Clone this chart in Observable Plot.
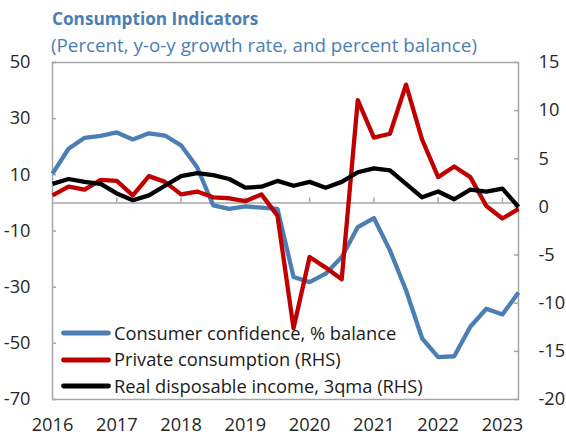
<!DOCTYPE html>
<html>
<head>
<meta charset="utf-8">
<script src="https://cdn.jsdelivr.net/npm/d3@7"></script>
<script src="https://cdn.jsdelivr.net/npm/@observablehq/plot@0.6"></script>
<style>
  body { margin: 0; background: #fff; }
  #wrap { position: relative; width: 566px; height: 436px; font-family: "Open Sans", sans-serif; overflow: hidden; }
  #title { position: absolute; left: 52px; top: 10px; font-size: 17.2px; font-weight: 700; line-height: 1; color: #4a7eb5; white-space: nowrap; }
  #subtitle { position: absolute; left: 51px; top: 35.5px; font-size: 18.8px; line-height: 1; color: #4a7eb5; white-space: nowrap; }
  #chart { position: absolute; left: 0; top: 48px; }
  .leg { position: absolute; left: 114px; font-size: 18.3px; line-height: 1; color: #1a1a1a; white-space: nowrap; }
  .sw { position: absolute; left: 58px; }
</style>
</head>
<body>
<div id="wrap">
  <div id="title">Consumption Indicators</div>
  <div id="subtitle">(Percent, y-o-y growth rate, and percent balance)</div>
  <div id="chart"></div>
  <div id="legend"></div>
</div>
<script>
// Quarterly observations, 2016Q1 .. 2023Q2
const years = [2016,2016,2016,2016,2017,2017,2017,2017,2018,2018,2018,2018,2019,2019,2019,2019,2020,2020,2020,2020,2021,2021,2021,2021,2022,2022,2022,2022,2023,2023];
const quarterNum = [1,2,3,4,1,2,3,4,1,2,3,4,1,2,3,4,1,2,3,4,1,2,3,4,1,2,3,4,1,2];
// Consumer confidence, % balance (left axis)
const confidence = [10.4,19.3,23.2,23.9,25.1,22.6,24.8,24.0,20.5,12.7,-0.9,-2.1,-1.2,-1.7,-2.1,-26.4,-28.2,-25.2,-19.3,-8.6,-5.4,-16.9,-31.1,-48.2,-54.9,-54.6,-44.1,-37.7,-39.7,-31.9];
// Private consumption, % y-o-y (right axis)
const consumption = [1.2,2.1,1.8,2.8,2.7,1.2,3.2,2.6,1.3,1.6,1.0,0.9,0.6,1.3,-0.9,-12.6,-5.2,-6.3,-7.5,11.1,7.2,7.6,12.7,7.0,3.1,4.2,3.1,0.1,-1.2,-0.2];
// Real disposable income, 3qma, % y-o-y (right axis)
const income = [2.4,2.9,2.6,2.4,1.4,0.7,1.2,2.2,3.2,3.5,3.3,2.9,2.0,2.1,2.7,2.2,2.6,2.0,2.6,3.6,4.0,3.8,2.4,1.0,1.6,0.8,1.8,1.6,1.9,0.0];

const leftTicks = [-70,-50,-30,-10,10,30,50];
const rightTicks = [-20,-15,-10,-5,0,5,10,15];
const yearTicks = [2016,2017,2018,2019,2020,2021,2022,2023];
const seriesNames = ["Consumer confidence, % balance","Private consumption (RHS)","Real disposable income, 3qma (RHS)"];
const seriesColors = ["#4a7eb5","#c00000","#000000"];

const leftDomain = [-70, 50];
const rightDomain = [-20, 15];
const toLeft = r => leftDomain[0] + (r - rightDomain[0]) * (leftDomain[1]-leftDomain[0]) / (rightDomain[1]-rightDomain[0]);
const fromLeft = l => rightDomain[0] + (l - leftDomain[0]) * (rightDomain[1]-rightDomain[0]) / (leftDomain[1]-leftDomain[0]);

const rows = years.map((y, i) => ({
  t: y + (quarterNum[i]-1)/4,
  conf: confidence[i],
  cons: toLeft(consumption[i]),
  inc: toLeft(income[i])
}));

const W = 566, H = 388, mL = 52, mR = 48, mT = 14, mB = 37;
const innerW = W - mL - mR;
const gray = "#a6a6a6";
const txt = "#262626";
const fs = 18.2;

const plot = Plot.plot({
  width: W, height: H,
  marginLeft: mL, marginRight: mR, marginTop: mT, marginBottom: mB,
  style: { fontFamily: "Open Sans, sans-serif", background: "transparent", overflow: "visible" },
  x: { type: "linear", domain: [rows[0].t, rows[rows.length-1].t], label: null },
  y: { domain: leftDomain, label: null },
  marks: [
    Plot.frame({ stroke: gray, strokeWidth: 1.5 }),
    Plot.ruleY([0], { stroke: gray, strokeWidth: 1.5 }),
    Plot.ruleY(leftTicks, { stroke: gray, strokeWidth: 1.5, insetRight: innerW - 4 }),
    Plot.ruleY(rightTicks.map(toLeft), { stroke: gray, strokeWidth: 1.5, insetLeft: innerW - 4 }),
    Plot.ruleX(yearTicks.slice(1), { y1: 0, y2: 0, insetTop: -5, stroke: gray, strokeWidth: 1.5 }),
    Plot.axisY(leftTicks, { anchor: "left", label: null, tickSize: 0, tickPadding: 22, tickFormat: d => String(d), fontSize: fs, fill: txt }),
    Plot.axisY(rightTicks.map(toLeft), { anchor: "right", label: null, tickSize: 0, tickPadding: 20, tickFormat: d => String(Math.round(fromLeft(d))), fontSize: fs, fill: txt }),
    Plot.axisX(yearTicks, { anchor: "bottom", label: null, tickSize: 0, tickPadding: 19, tickFormat: d => String(d), fontSize: fs, fill: txt }),
    Plot.line(rows, { x: "t", y: "conf", stroke: seriesColors[0], strokeWidth: 4.3, strokeLinecap: "butt" }),
    Plot.line(rows, { x: "t", y: "cons", stroke: seriesColors[1], strokeWidth: 4.3, strokeLinecap: "butt" }),
    Plot.line(rows, { x: "t", y: "inc", stroke: seriesColors[2], strokeWidth: 4.3, strokeLinecap: "butt" })
  ]
});
document.getElementById("chart").appendChild(plot);

// Legend (inside plot, lower left)
const legend = document.getElementById("legend");
const lineYs = [333, 359.5, 386];
seriesNames.forEach((name, i) => {
  const sw = document.createElementNS("http://www.w3.org/2000/svg", "svg");
  sw.setAttribute("class", "sw");
  sw.setAttribute("width", 56);
  sw.setAttribute("height", 10);
  sw.style.top = (lineYs[i] - 5) + "px";
  const ln = document.createElementNS("http://www.w3.org/2000/svg", "line");
  ln.setAttribute("x1", 5.5); ln.setAttribute("x2", 50.5);
  ln.setAttribute("y1", 5); ln.setAttribute("y2", 5);
  ln.setAttribute("stroke", seriesColors[i]);
  ln.setAttribute("stroke-width", 4.8);
  ln.setAttribute("stroke-linecap", "round");
  sw.appendChild(ln);
  legend.appendChild(sw);
  const t = document.createElement("div");
  t.className = "leg";
  t.textContent = name;
  t.style.top = (lineYs[i] + 7 - 0.888 * 18.3) + "px";
  legend.appendChild(t);
});
</script>
</body>
</html>
